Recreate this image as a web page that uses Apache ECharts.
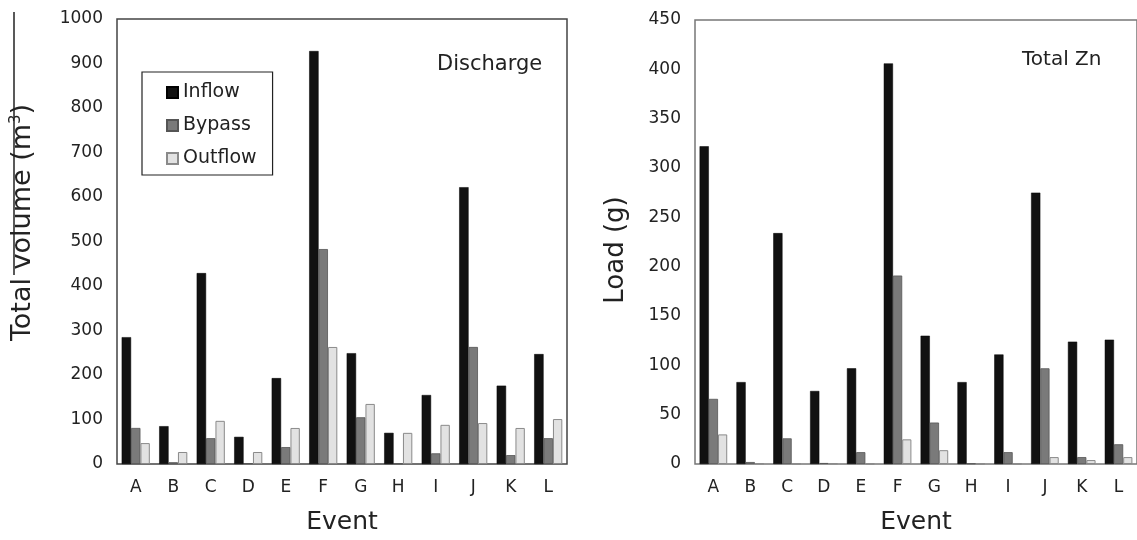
<!DOCTYPE html>
<html>
<head>
<meta charset="utf-8">
<script src="https://cdn.jsdelivr.net/npm/echarts@6/dist/echarts.min.js"></script>
<style>html,body{margin:0;padding:0;background:#fff}#c{width:1137px;height:540px}</style>
</head>
<body>
<div id="c"></div>
<script>
const events = ['A','B','C','D','E','F','G','H','I','J','K','L'];
// Discharge (total volume, m3)
const dischargeInflow  = [285, 85, 429, 61, 193, 928, 249, 70, 155, 622, 176, 247];
const dischargeBypass  = [81, 4, 58, 2, 38, 483, 105, 1, 24, 263, 20, 58];
const dischargeOutflow = [47, 27, 97, 27, 81, 263, 135, 70, 88, 92, 81, 101];
// Total Zn load (g)
const znInflow  = [322, 83, 234, 74, 97, 406, 130, 83, 111, 275, 124, 126];
const znBypass  = [66, 2, 26, 1, 12, 191, 42, 0.5, 12, 97, 7, 20];
const znOutflow = [30, 0.5, 0.3, 0.5, 0.3, 25, 14, 0.3, 0.3, 7, 4, 7];
const seriesNames = ['Inflow','Bypass','Outflow'];

const font = 'DejaVu Sans, Arial, sans-serif';
const styles = [
  {color:'#111111', borderColor:'#000', borderWidth:0.5},
  {color:'#7a7a7a', borderColor:'#555', borderWidth:0.8},
  {color:'#e2e2e2', borderColor:'#8a8a8a', borderWidth:1}
];
function mk(name, data, idx, i){
  return {name:name, type:'bar', xAxisIndex:idx, yAxisIndex:idx, data:data,
    barGap:'0%', barCategoryGap:'25%', itemStyle:styles[i], animation:false};
}
const chart = echarts.init(document.getElementById('c'));
const xCommon = {type:'category', data:events, axisTick:{show:false},
  axisLine:{show:false},
  axisLabel:{color:'#222', fontSize:17, fontFamily:font, margin:15},
  name:'Event', nameLocation:'middle', nameGap:46,
  nameTextStyle:{color:'#222', fontSize:25, fontFamily:font}};
const yCommon = {type:'value', min:0, splitLine:{show:false}, axisTick:{show:false},
  axisLine:{show:false},
  axisLabel:{color:'#222', fontSize:17, fontFamily:font, margin:14, formatter:function(v){return String(v);}},
  nameLocation:'middle'};
chart.setOption({
  backgroundColor:'#fff',
  grid:[
    {left:117, top:19, width:450, height:445, show:true, borderColor:'#444', borderWidth:1.5, backgroundColor:'transparent'},
    {left:695, top:20, width:444, height:444, show:true, borderColor:'#777', borderWidth:1.5, backgroundColor:'transparent'}
  ],
  xAxis:[Object.assign({gridIndex:0}, xCommon), Object.assign({gridIndex:1}, xCommon)],
  yAxis:[
    Object.assign({gridIndex:0, max:1000, interval:100, name:'Total volume (m{sup|3})', nameGap:81,
      nameTextStyle:{color:'#222', fontSize:27, fontFamily:font, padding:[0,0,0,38],
        rich:{sup:{fontSize:15, verticalAlign:'top', padding:[0,0,12,0], color:'#222', fontFamily:font}}}}, yCommon),
    Object.assign({gridIndex:1, max:450, interval:50, name:'Load (g)', nameGap:66,
      nameTextStyle:{color:'#222', fontSize:26, fontFamily:font, padding:[0,16,0,0]}}, yCommon)
  ],
  legend:{data:seriesNames, orient:'vertical', left:142, top:72,
    itemWidth:11, itemHeight:11, itemGap:14, padding:[11,16,7,24],
    borderColor:'#222', borderWidth:1.2, icon:'rect',
    textStyle:{color:'#222', fontSize:19, fontFamily:font}},
  series:[
    mk('Inflow', dischargeInflow, 0, 0), mk('Bypass', dischargeBypass, 0, 1), mk('Outflow', dischargeOutflow, 0, 2),
    mk('Inflow', znInflow, 1, 0), mk('Bypass', znBypass, 1, 1), mk('Outflow', znOutflow, 1, 2)
  ],
  graphic:[
    {type:'text', left:437, top:54, style:{text:'Discharge', fill:'#222', fontSize:21, fontFamily:font}},
    {type:'text', left:1022, top:50, style:{text:'Total Zn', fill:'#222', fontSize:20, fontFamily:font}},
    {type:'line', shape:{x1:14, y1:12, x2:14, y2:275}, style:{stroke:'#222', lineWidth:1.5}}
  ]
});
</script>
</body>
</html>
